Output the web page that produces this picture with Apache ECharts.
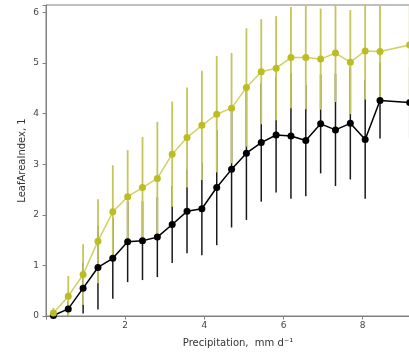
<!DOCTYPE html>
<html>
<head>
<meta charset="utf-8">
<script src="https://cdn.jsdelivr.net/npm/echarts@6/dist/echarts.min.js"></script>
<style>
html,body{margin:0;padding:0;background:#fff;}
#chart{width:409px;height:353px;}
</style>
</head>
<body>
<div id="chart"></div>
<script>
// Bin centres of precipitation (mm d-1)
var xGreen = [0.1875,0.5625,0.9375,1.3125,1.6875,2.0625,2.4375,2.8125,3.1875,3.5625,3.9375,4.3125,4.6875,5.0625,5.4375,5.8125,6.1875,6.5625,6.9375,7.3125,7.6875,8.0625,8.4375,9.1875];
var xBlack = [0.1875,0.5625,0.9375,1.3125,1.6875,2.0625,2.4375,2.8125,3.1875,3.5625,3.9375,4.3125,4.6875,5.0625,5.4375,5.8125,6.1875,6.5625,6.9375,7.3125,7.6875,8.0625,8.4375,9.1875];
// Olive series: mean LAI and error
var greenMean = [0.06,0.39,0.82,1.48,2.06,2.36,2.54,2.72,3.20,3.53,3.77,3.99,4.11,4.52,4.83,4.90,5.11,5.11,5.08,5.20,5.02,5.24,5.23,5.36];
var greenErr  = [0.10,0.40,0.60,0.83,0.92,0.92,1.00,1.12,1.04,0.99,1.08,1.15,1.09,1.17,1.04,1.03,1.00,1.02,1.00,0.97,1.03,0.96,0.98,1.00];
// Black series: mean LAI and error
var blackMean = [0.01,0.14,0.55,0.96,1.14,1.47,1.49,1.56,1.81,2.07,2.12,2.54,2.90,3.22,3.43,3.58,3.56,3.47,3.80,3.68,3.81,3.49,4.26,4.22];
var blackErr  = [0.04,0.15,0.50,0.83,0.80,0.80,0.78,0.79,0.76,0.83,0.92,1.14,1.15,1.32,1.17,1.14,1.24,1.10,0.98,1.11,1.11,1.17,0.75,0.70];
// Axis ticks
var xTicks = [2,4,6,8];
var yTicks = [0,1,2,3,4,5,6];

var YMAX = 6.15, XMAX = 9.7;
var GREEN = '#bcbd22', GREENBAR = '#c4c55c', BLACK = '#000000';

function pts(xs, ys){ return xs.map(function(x,i){ return [x, ys[i]]; }); }
function bars(xs, m, e){ return xs.map(function(x,i){ return [x, m[i]-e[i], m[i]+e[i]]; }); }
function barRenderer(color, opacity, width){
  return function(params, api){
    var x = api.value(0);
    var lo = Math.max(api.value(1), 0), hi = Math.min(api.value(2), YMAX);
    var p1 = api.coord([x, lo]), p2 = api.coord([x, hi]);
    return {type:'line', shape:{x1:p1[0], y1:p1[1], x2:p2[0], y2:p2[1]},
      style:{stroke:color, lineWidth:width, opacity:opacity}};
  };
}

var chart = echarts.init(document.getElementById('chart'), null, {renderer:'canvas'});
var font = 'DejaVu Sans';
chart.setOption({
  animation:false,
  backgroundColor:'#ffffff',
  grid:{left:46, top:5, height:311, width:384, containLabel:false, outerBoundsMode:'none',
    show:true, borderColor:'#808080', borderWidth:1, backgroundColor:'transparent'},
  xAxis:{
    type:'value', min:0, max:XMAX, interval:2,
    name:'Precipitation,  mm d\u207B\u00B9', nameLocation:'middle', nameGap:22, nameMoveOverlap:false,
    nameTextStyle:{fontFamily:font, fontSize:10, color:'#333'},
    axisLine:{lineStyle:{color:'#808080', width:1}},
    axisTick:{length:3.5, lineStyle:{color:'#808080'}},
    axisLabel:{fontFamily:font, fontSize:9, color:'#444', margin:5,
      formatter:function(v){ return xTicks.indexOf(v) >= 0 ? String(v) : ''; }},
    splitLine:{show:false}
  },
  yAxis:{
    type:'value', min:0, max:YMAX, interval:1,
    name:'LeafAreaIndex, 1', nameLocation:'middle', nameGap:19, nameRotate:90, nameMoveOverlap:false,
    nameTextStyle:{fontFamily:font, fontSize:10, color:'#333'},
    axisLine:{show:true, lineStyle:{color:'#808080', width:1}},
    axisTick:{show:true, length:3.5, lineStyle:{color:'#808080'}},
    axisLabel:{fontFamily:font, fontSize:9, color:'#444', margin:7,
      formatter:function(v){ return yTicks.indexOf(v) >= 0 ? String(v) : ''; }},
    splitLine:{show:false}
  },
  series:[
    {type:'custom', renderItem:barRenderer(BLACK, 0.9, 1.5), data:bars(xBlack, blackMean, blackErr), z:2, silent:true},
    {type:'custom', renderItem:barRenderer(GREENBAR, 1, 1.8), data:bars(xGreen, greenMean, greenErr), z:2, silent:true},
    {type:'line', data:pts(xBlack, blackMean), symbol:'circle', symbolSize:7, z:3,
      itemStyle:{color:BLACK}, lineStyle:{color:BLACK, width:1.5}},
    {type:'line', data:pts(xGreen, greenMean), symbol:'circle', symbolSize:7, z:3,
      itemStyle:{color:GREEN}, lineStyle:{color:GREEN, width:1.5, opacity:0.7}}
  ]
});
</script>
</body>
</html>
